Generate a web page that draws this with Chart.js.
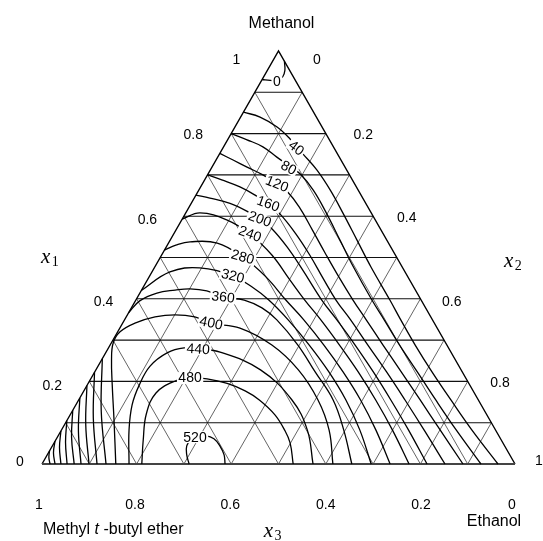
<!DOCTYPE html>
<html>
<head>
<meta charset="utf-8">
<script src="https://cdn.jsdelivr.net/npm/chart.js@4/dist/chart.umd.min.js"></script>
<style>html,body{margin:0;padding:0;background:#fff;}canvas{display:block;}</style>
</head>
<body>
<canvas id="c" width="543" height="541"></canvas>
<script>
// ---- DATA: contour branches as [x1 (methanol), x3 (MTBE)] mole fractions; x2 = 1 - x1 - x3 ----
const contour0    = [[0.931,0.069],[0.929,0.053],[0.929,0.038],[0.938,0.022],[0.953,0.010],[0.975,0.0]];
const contour40a  = [[0.852,0.148],[0.840,0.119],[0.816,0.095],[0.787,0.082],[0.751,0.073],[0.712,0.063],[0.663,0.059],[0.608,0.060],[0.542,0.063],[0.477,0.066],[0.397,0.066],[0.349,0.067],[0.288,0.067],[0.223,0.064],[0.155,0.058],[0.082,0.050],[0,0.036]];
const contour40b  = [[0,0.983],[0.016,0.9775],[0.032,0.968]];
const contour80a  = [[0.800,0.200],[0.785,0.174],[0.768,0.149],[0.743,0.132],[0.722,0.117],[0.702,0.103],[0.663,0.095],[0.608,0.095],[0.542,0.099],[0.477,0.103],[0.397,0.104],[0.349,0.102],[0.288,0.100],[0.223,0.095],[0.155,0.090],[0.082,0.083],[0,0.072]];
const contour80b  = [[0,0.9725],[0.0275,0.962],[0.055,0.945]];
const contour120a = [[0.752,0.248],[0.736,0.228],[0.719,0.207],[0.700,0.183],[0.678,0.164],[0.661,0.152],[0.622,0.145],[0.567,0.145],[0.511,0.146],[0.453,0.146],[0.397,0.144],[0.349,0.140],[0.288,0.135],[0.223,0.129],[0.155,0.123],[0.082,0.117],[0,0.110]];
const contour120b = [[0,0.960],[0.040,0.943],[0.080,0.920]];
const contour160a = [[0.700,0.300],[0.688,0.276],[0.671,0.246],[0.651,0.224],[0.630,0.207],[0.605,0.194],[0.559,0.185],[0.506,0.181],[0.450,0.181],[0.397,0.180],[0.349,0.173],[0.288,0.167],[0.223,0.160],[0.155,0.155],[0.082,0.151],[0,0.148]];
const contour160b = [[0,0.947],[0.0525,0.924],[0.105,0.895]];
const contour200a = [[0.651,0.349],[0.644,0.323],[0.631,0.287],[0.608,0.256],[0.593,0.243],[0.569,0.229],[0.525,0.219],[0.470,0.214],[0.397,0.210],[0.349,0.202],[0.288,0.194],[0.223,0.188],[0.155,0.185],[0.082,0.184],[0,0.186]];
const contour200b = [[0,0.932],[0.065,0.905],[0.130,0.870]];
const contour240a = [[0.593,0.407],[0.608,0.362],[0.591,0.314],[0.557,0.282],[0.506,0.261],[0.446,0.253],[0.397,0.246],[0.349,0.236],[0.288,0.227],[0.223,0.220],[0.155,0.217],[0.082,0.218],[0,0.224]];
const contour240b = [[0,0.9175],[0.080,0.883],[0.160,0.840]];
const contour280a = [[0.518,0.482],[0.530,0.452],[0.538,0.418],[0.535,0.362],[0.501,0.325],[0.453,0.300],[0.397,0.286],[0.349,0.272],[0.288,0.260],[0.223,0.252],[0.155,0.249],[0.082,0.253],[0,0.264]];
const contour280b = [[0,0.9006],[0.095,0.860],[0.190,0.810]];
const contour320a = [[0.420,0.580],[0.465,0.497],[0.475,0.429],[0.455,0.369],[0.429,0.342],[0.397,0.322],[0.349,0.305],[0.288,0.291],[0.223,0.282],[0.155,0.280],[0.082,0.287],[0,0.304]];
const contour320b = [[0,0.8837],[0.111,0.836],[0.222,0.778]];
const contour360a = [[0.366,0.634],[0.395,0.596],[0.414,0.550],[0.421,0.508],[0.424,0.475],[0.419,0.442],[0.404,0.415],[0.397,0.374],[0.378,0.346],[0.349,0.329],[0.288,0.315],[0.223,0.311],[0.155,0.307],[0.082,0.321],[0,0.345]];
const contour360b = [[0,0.8647],[0.1275,0.811],[0.255,0.745]];
const contour400  = [[0,0.844],[0.1065,0.7945],[0.191,0.756],[0.252,0.727],[0.293,0.703],[0.320,0.675],[0.341,0.633],[0.356,0.583],[0.361,0.538],[0.356,0.499],[0.341,0.472],[0.329,0.417],[0.288,0.370],[0.228,0.344],[0.155,0.339],[0.082,0.352],[0,0.385]];
const contour440  = [[0,0.816],[0.082,0.775],[0.143,0.738],[0.191,0.699],[0.237,0.653],[0.269,0.601],[0.281,0.559],[0.278,0.531],[0.271,0.488],[0.228,0.424],[0.155,0.394],[0.082,0.398],[0,0.427]];
const contour480  = [[0,0.789],[0.058,0.757],[0.121,0.719],[0.172,0.673],[0.201,0.618],[0.208,0.583],[0.206,0.548],[0.195,0.511],[0.177,0.482],[0.155,0.463],[0.119,0.448],[0.082,0.446],[0.051,0.450],[0,0.469]];
const contour520  = [[0,0.689],[0.022,0.683],[0.044,0.672],[0.061,0.653],[0.065,0.638],[0.068,0.619],[0.061,0.606],[0.044,0.602],[0.022,0.604],[0,0.613]];

const contourLevels = [0,40,80,120,160,200,240,280,320,360,400,440,480,520];
const labelX1 = [0.927,0.765,0.717,0.678,0.630,0.593,0.557,0.501,0.455,0.404,0.341,0.278,0.208,0.065];
const labelX3 = [0.040,0.080,0.120,0.164,0.207,0.243,0.282,0.325,0.369,0.415,0.472,0.531,0.583,0.644];

const axisTicks  = [0,0.2,0.4,0.6,0.8,1];
const gridLevels = [0.1,0.2,0.3,0.4,0.5,0.6,0.7,0.8,0.9];
const componentNames = ['Methanol','Ethanol','Methyl t -butyl ether'];
const axisSymbols = ['x','1','2','3'];

// ---- drawing ----
const branches = [contour0,contour40a,contour40b,contour80a,contour80b,contour120a,contour120b,
  contour160a,contour160b,contour200a,contour200b,contour240a,contour240b,contour280a,contour280b,
  contour320a,contour320b,contour360a,contour360b,contour400,contour440,contour480,contour520];

const toXY = p => ({x: 1 - p[1] - p[0]/2, y: p[0]});

const labelAngles = [0,38,28,22,20,20,20,16,14,6,12,4,0,0];
const leftOff   = [[-22,-2],[-37,5],[-33,3],[-36.5,4],[-38,2],[-42,9]];
const rightOff  = [[38.5,9],[37.5,1.5],[33.6,2],[31.3,3],[32.3,2],[24,-3]];
const bottomOff = [[-3,41],[0.6,41],[0,41],[-1,41],[-1.6,41],[-3,41]];

const SANS = '"Liberation Sans", Arial, Helvetica, sans-serif';
const SERIF = '"Liberation Serif", "Times New Roman", serif';

const ternaryPlugin = {
  id: 'ternary',
  beforeDatasetsDraw(chart) {
    const ctx = chart.ctx, xs = chart.scales.x, ys = chart.scales.y;
    const pix = (x1, x3) => ({x: xs.getPixelForValue(1 - x3 - x1/2), y: ys.getPixelForValue(x1)});
    const seg = (a, b) => { ctx.beginPath(); ctx.moveTo(a.x, a.y); ctx.lineTo(b.x, b.y); ctx.stroke(); };
    ctx.save();
    ctx.strokeStyle = '#222';
    ctx.lineWidth = 0.7;
    gridLevels.forEach(v => {
      seg(pix(0, v), pix(1 - v, v));        // constant x3
      seg(pix(0, 1 - v), pix(1 - v, 0));    // constant x2
    });
    ctx.strokeStyle = '#111';
    ctx.lineWidth = 1.1;
    gridLevels.forEach(v => seg(pix(v, 1 - v), pix(v, 0))); // constant x1
    ctx.strokeStyle = '#000';
    ctx.lineWidth = 1.4;
    const L = pix(0, 1), A = pix(1, 0), R = pix(0, 0);
    ctx.beginPath(); ctx.moveTo(L.x, L.y); ctx.lineTo(A.x, A.y); ctx.lineTo(R.x, R.y); ctx.stroke();
    ctx.strokeStyle = '#444';
    ctx.lineWidth = 2.2;
    seg(L, R);
    ctx.restore();
  },
  afterDatasetsDraw(chart) {
    const ctx = chart.ctx, xs = chart.scales.x, ys = chart.scales.y;
    const pix = (x1, x3) => ({x: xs.getPixelForValue(1 - x3 - x1/2), y: ys.getPixelForValue(x1)});
    ctx.save();
    ctx.textAlign = 'center';
    ctx.textBaseline = 'middle';
    ctx.font = '14px ' + SANS;
    contourLevels.forEach((lv, i) => {
      const p = pix(labelX1[i], labelX3[i]);
      const t = String(lv);
      const w = ctx.measureText(t).width;
      ctx.save();
      ctx.translate(p.x, p.y);
      ctx.rotate(labelAngles[i] * Math.PI / 180);
      ctx.fillStyle = '#fff';
      ctx.fillRect(-w/2 - 1.5, -6, w + 3, 12);
      ctx.fillStyle = '#000';
      ctx.fillText(t, 0, 0.5);
      ctx.restore();
    });
    ctx.fillStyle = '#000';
    ctx.font = '14px ' + SANS;
    axisTicks.forEach((v, i) => {
      const pl = pix(v, 1 - v);
      ctx.fillText(String(v), pl.x + leftOff[i][0], pl.y + leftOff[i][1]);
      const pr = pix(1 - v, 0);
      ctx.fillText(String(v), pr.x + rightOff[i][0], pr.y + rightOff[i][1]);
      const pb = pix(0, v);
      ctx.fillText(String(v), pb.x + bottomOff[i][0], pb.y + bottomOff[i][1]);
    });
    ctx.font = '16px ' + SANS;
    const A = pix(1, 0), R = pix(0, 0), L = pix(0, 1);
    ctx.fillText(componentNames[0], A.x + 3, A.y - 27);
    ctx.fillText(componentNames[1], R.x - 21, R.y + 58);
    const parts = componentNames[2].split(' t ');
    ctx.textAlign = 'left';
    let x = L.x + 1; const y = L.y + 66;
    ctx.fillText(parts[0] + ' ', x, y); x += ctx.measureText(parts[0] + ' ').width;
    ctx.font = 'italic 16px ' + SANS;
    ctx.fillText('t', x, y); x += ctx.measureText('t').width;
    ctx.font = '16px ' + SANS;
    ctx.fillText(' ' + parts[1], x, y);
    const sym = (p, dx, dy, sub) => {
      ctx.textAlign = 'center';
      ctx.font = 'italic 21px ' + SERIF;
      const cx = p.x + dx, cy = p.y + dy;
      ctx.fillText(axisSymbols[0], cx, cy);
      ctx.font = '14px ' + SERIF;
      ctx.fillText(sub, cx + 9.5, cy + 5);
    };
    sym(pix(0.5, 0.5), -114.5, 0, axisSymbols[1]);
    sym(pix(0.5, 0), 112, 3.5, axisSymbols[2]);
    sym(pix(0, 0.5), -10, 67, axisSymbols[3]);
    ctx.restore();
  }
};

new Chart(document.getElementById('c'), {
  type: 'scatter',
  data: {
    datasets: branches.map(b => ({
      data: b.map(toXY),
      showLine: true,
      borderColor: '#000',
      borderWidth: 1.3,
      pointRadius: 0,
      pointHoverRadius: 0,
      tension: 0.4,
      fill: false,
      clip: false
    }))
  },
  options: {
    responsive: false,
    animation: false,
    devicePixelRatio: 1,
    events: [],
    layout: {padding: {left: 42, right: 28, top: 51, bottom: 77}},
    plugins: {legend: {display: false}, tooltip: {enabled: false}, title: {display: false}},
    scales: {
      x: {type: 'linear', min: 0, max: 1, display: false},
      y: {type: 'linear', min: 0, max: 1, display: false}
    }
  },
  plugins: [ternaryPlugin]
});
</script>
</body>
</html>
